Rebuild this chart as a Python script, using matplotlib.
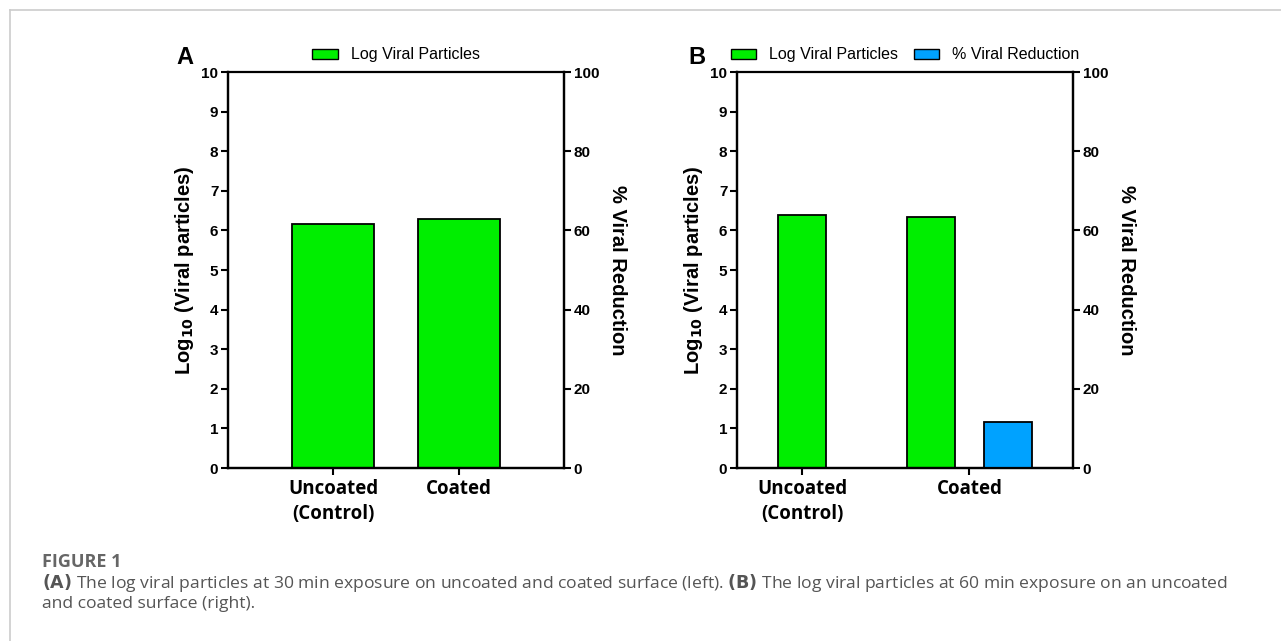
import numpy as np
import matplotlib.pyplot as plt
from matplotlib.patches import Patch
from matplotlib.lines import Line2D

# data
cats_a = ['Uncoated\n(Control)', 'Coated']
log_a = [6.17, 6.28]

cats_b = ['Uncoated\n(Control)', 'Coated']
log_b = [6.40, 6.35]
reduction_b = [0.0, 11.5]   # % viral reduction (uncoated has none)

green = '#00ee00'
blue = '#00a2ff'

W, H = 1281, 641
fig = plt.figure(figsize=(W / 100, H / 100), dpi=100)

def px_axes(x0, y0, x1, y1):
    return fig.add_axes([x0 / W, 1 - y1 / H, (x1 - x0) / W, (y1 - y0) / H])

def style(ax, ax2, cats, ticks):
    ax.set_ylim(0, 10)
    ax.set_yticks(range(0, 11))
    ax2.set_ylim(0, 100)
    ax2.set_yticks(range(0, 101, 20))
    for a in (ax, ax2):
        for s in a.spines.values():
            s.set_linewidth(1.6)
        a.spines['top'].set_visible(False)
        a.tick_params(width=1.5, length=5, labelsize=11, pad=2)
        for lab in a.get_yticklabels():
            lab.set_fontweight('bold')
            lab.set_family('Liberation Sans')
    ax.set_xticks(ticks)
    ax.set_xticklabels(cats, fontsize=13.5, fontweight='bold', family='Open Sans',
                       linespacing=1.35)
    ax.tick_params(axis='x', pad=3)
    ax.set_ylabel('Log$_{\\mathbf{10}}$ (Viral particles)', fontsize=14.5,
                  fontweight='bold', family='Liberation Sans', labelpad=4)
    ax2.set_ylabel('% Viral Reduction', fontsize=14.5, fontweight='bold',
                   family='Liberation Sans', rotation=270, labelpad=20)
    ax.plot([0, 1], [1, 1], transform=ax.transAxes, color='black', lw=1.6,
            clip_on=False)

# panel A
axA = px_axes(228, 72, 564, 468)
axA2 = axA.twinx()
xa = np.arange(len(cats_a))
axA.bar(xa, log_a, width=0.65, color=green, edgecolor='black', linewidth=1.3)
axA.set_xlim(-0.833, 1.833)
style(axA, axA2, cats_a, xa)
axA.legend(handles=[Patch(facecolor=green, edgecolor='black', label='Log Viral Particles')],
           loc='lower center', bbox_to_anchor=(0.5, 1.0), frameon=False,
           prop={'family': 'Liberation Sans', 'size': 11.5},
           handlelength=1.6, handleheight=0.6, borderaxespad=0.2)
fig.text(185 / W, 1 - 58 / H, 'A', fontsize=17, fontweight='bold',
         family='Liberation Sans', ha='center', va='center')

# panel B
axB = px_axes(737, 72, 1073, 468)
axB2 = axB.twinx()
xb = np.arange(len(cats_b))
off = 0.23
gx = [0, 1 - off]
bx = [1 + off]
axB.bar(gx, log_b, width=0.29, color=green, edgecolor='black', linewidth=1.3)
axB2.bar(bx, reduction_b[1:], width=0.29, color=blue, edgecolor='black', linewidth=1.3)
axB.set_xlim(-0.39, 1.62)
axB2.set_xlim(-0.39, 1.62)
style(axB, axB2, cats_b, xb)
axB.legend(handles=[Patch(facecolor=green, edgecolor='black', label='Log Viral Particles'),
                    Patch(facecolor=blue, edgecolor='black', label='% Viral Reduction')],
           loc='lower center', bbox_to_anchor=(0.5, 1.0), frameon=False, ncol=2,
           prop={'family': 'Liberation Sans', 'size': 11.5},
           handlelength=1.6, handleheight=0.6, borderaxespad=0.2, columnspacing=1.0)
fig.text(697 / W, 1 - 58 / H, 'B', fontsize=17, fontweight='bold',
         family='Liberation Sans', ha='center', va='center')

# page frame
fig.add_artist(Line2D([10 / W, 1], [1 - 10 / H, 1 - 10 / H], color='#cccccc', lw=1.2))
fig.add_artist(Line2D([10 / W, 10 / W], [1 - 10 / H, 0], color='#cccccc', lw=1.2))

# caption
cap_col = '#555555'
fig.text(42 / W, 1 - 562 / H, 'FIGURE 1', fontsize=13, fontweight='bold',
         color='#666666', family='Open Sans', va='center')
fig.text(42 / W, 1 - 583 / H,
         r'$\mathbf{(A)}$ The log viral particles at 30 min exposure on uncoated and coated surface (left). '
         r'$\mathbf{(B)}$ The log viral particles at 60 min exposure on an uncoated',
         fontsize=12.6, color=cap_col, family='Open Sans', va='center')
fig.text(42 / W, 1 - 604 / H, 'and coated surface (right).', fontsize=12.6,
         color=cap_col, family='Open Sans', va='center')

fig.savefig('out.png', dpi=100)
